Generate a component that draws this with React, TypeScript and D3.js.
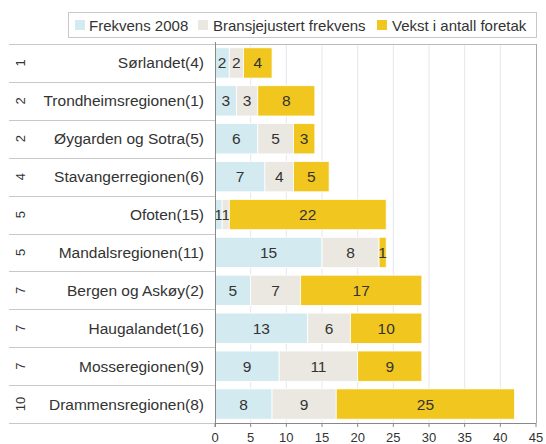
import React from "react";
import * as d3 from "d3";

const regions = [
  "Sørlandet(4)",
  "Trondheimsregionen(1)",
  "Øygarden og Sotra(5)",
  "Stavangerregionen(6)",
  "Ofoten(15)",
  "Mandalsregionen(11)",
  "Bergen og Askøy(2)",
  "Haugalandet(16)",
  "Mosseregionen(9)",
  "Drammensregionen(8)",
];
const ranks = ["1", "2", "2", "4", "5", "5", "7", "7", "7", "10"];
const frekvens2008 = [2, 3, 6, 7, 1, 15, 5, 13, 9, 8];
const bransjejustert = [2, 3, 5, 4, 1, 8, 7, 6, 11, 9];
const vekst = [4, 8, 3, 5, 22, 1, 17, 10, 9, 25];
const seriesNames = ["Frekvens 2008", "Bransjejustert frekvens", "Vekst i antall foretak"];
const seriesColors = ["#d3ebf0", "#ebe8e2", "#f1c71f"];
const xTicks = [0, 5, 10, 15, 20, 25, 30, 35, 40, 45];

const W = 546;
const H = 444;
const left = 215;
const right = 536;
const top = 44;
const bottom = 423;
const font = "Liberation Sans, Arial, Helvetica, sans-serif";

export default function App() {
  const x = d3.scaleLinear().domain([0, 45]).range([left, right]);
  const y = d3.scaleBand<string>().domain(regions).range([top, bottom]).paddingInner(0.2).paddingOuter(0.1);
  const band = d3.scaleBand<string>().domain(regions).range([top, bottom]);
  const rows = regions.map((r, i) => ({ r, "0": frekvens2008[i], "1": bransjejustert[i], "2": vekst[i] }));
  const stack = d3.stack<any>().keys(["0", "1", "2"])(rows);

  const legendItems = [
    { sx: 75, tx: 89 },
    { sx: 198, tx: 213 },
    { sx: 377, tx: 392 },
  ];

  return (
    <svg width={W} height={H} style={{ position: "absolute", left: 0, top: 0 }} fontFamily={font}>
      <rect width={W} height={H} fill="#fff" />
      {/* legend */}
      <rect x={68.5} y={12.5} width={468} height={25} fill="#fff" stroke="#c8c8c8" />
      {legendItems.map((l, i) => (
        <g key={i}>
          <rect x={l.sx} y={20} width={10} height={10} fill={seriesColors[i]} />
          <text x={l.tx} y={30.5} fontSize={15} fill="#333">{seriesNames[i]}</text>
        </g>
      ))}
      {/* grid */}
      {xTicks.slice(1, -1).map((t) => (
        <line key={t} x1={x(t)} x2={x(t)} y1={top} y2={bottom} stroke="#e6e6ef" />
      ))}
      <line x1={left} x2={right} y1={top + 0.5} y2={top + 0.5} stroke="#bbb" />
      <line x1={right + 0.5} x2={right + 0.5} y1={top} y2={bottom} stroke="#aaa" />
      {/* left table lines */}
      {regions.map((r) => (
        <line key={r} x1={9} x2={left} y1={Math.round(band(r)!) + 0.5} y2={Math.round(band(r)!) + 0.5} stroke="#c8c8c8" />
      ))}
      <line x1={9} x2={left} y1={bottom + 0.5} y2={bottom + 0.5} stroke="#c8c8c8" />
      {/* bars */}
      {stack.map((s, si) =>
        s.map((d, i) => {
          const r = regions[i];
          const x0 = x(d[0]);
          const x1 = x(d[1]);
          const yy = y(r)!;
          const v = d[1] - d[0];
          return (
            <g key={si + "-" + i}>
              <rect x={x0} y={yy} width={x1 - x0} height={y.bandwidth()} fill={seriesColors[si]} stroke="#fff" strokeWidth={0.8} />
              <text x={(x0 + x1) / 2} y={yy + y.bandwidth() / 2 + 5.5} fontSize={15.5} fill="#333" textAnchor="middle">{v}</text>
            </g>
          );
        })
      )}
      {/* region labels */}
      {regions.map((r, i) => {
        const cy = band(r)! + band.bandwidth() / 2;
        return (
          <g key={r}>
            <text x={204} y={cy + 5.5} fontSize={15.5} fill="#333" textAnchor="end">{r}</text>
            <text transform={`translate(25,${cy}) rotate(-90)`} fontSize={13} fill="#333" textAnchor="middle">{ranks[i]}</text>
          </g>
        );
      })}
      {/* axes */}
      <line x1={left + 0.5} x2={left + 0.5} y1={top - 2} y2={bottom + 4} stroke="#888" />
      <line x1={left} x2={right} y1={bottom + 0.5} y2={bottom + 0.5} stroke="#888" />
      {xTicks.map((t) => (
        <g key={t}>
          <line x1={x(t)} x2={x(t)} y1={bottom} y2={bottom + 4} stroke="#888" />
          <text x={x(t)} y={442} fontSize={13} fill="#333" textAnchor="middle">{t}</text>
        </g>
      ))}
    </svg>
  );
}
